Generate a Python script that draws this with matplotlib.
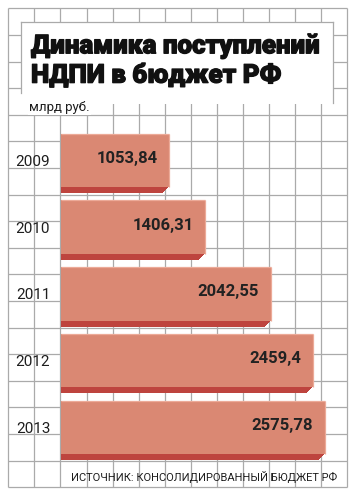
import matplotlib
matplotlib.use("Agg")
import matplotlib.pyplot as plt
from matplotlib import font_manager
from matplotlib import patheffects as pe
from matplotlib.transforms import offset_copy
from matplotlib.patches import Rectangle

# ---- data ----
years = ["2009", "2010", "2011", "2012", "2013"]
values = [1053.84, 1406.31, 2042.55, 2459.4, 2575.78]
value_labels = ["1053,84", "1406,31", "2042,55", "2459,4", "2575,78"]
title_lines = ["Динамика поступлений", "НДПИ в бюджет РФ"]
unit_label = "млрд руб."
source_label = "ИСТОЧНИК: КОНСОЛИДИРОВАННЫЙ БЮДЖЕТ РФ"

# ---- style ----
W, H = 358, 497
face_c = "#DA8873"
dark_c = "#BE443E"
light_c = "#ECAA98"
grid_c = "#AAAAAA"
txt_c = "#1E1E1E"

names = {f.name for f in font_manager.fontManager.ttflist}
narrow = "Liberation Sans Narrow" if "Liberation Sans Narrow" in names else None
main_font = "Roboto"

fig = plt.figure(figsize=(W / 100, H / 100), dpi=100)
fig.patch.set_facecolor("white")

# background axes in pixel coordinates (decorative grid, title)
bg = fig.add_axes([0, 0, 1, 1])
bg.set_xlim(0, W)
bg.set_ylim(H, 0)
bg.axis("off")

x0, x1, y0, y1 = 8.3, 347.3, 8.3, 487.3
ncol, nrow = 13, 18
for k in range(ncol + 1):
    x = x0 + k * (x1 - x0) / ncol
    bg.plot([x, x], [y0, y1], color=grid_c, lw=0.9, zorder=1, solid_capstyle="butt")
for k in range(nrow + 1):
    y = y0 + k * (y1 - y0) / nrow
    bg.plot([x0, x1], [y, y], color=grid_c, lw=0.9, zorder=1, solid_capstyle="butt")

# title box
bx0, by0, bx1, by1 = 20.7, 21.7, 333.3, 104.5
bg.add_patch(Rectangle((bx0, by0), bx1 - bx0, by1 - by0, facecolor="white",
                       edgecolor="none", zorder=2))
bg.plot([bx0, bx1], [by0, by0], color=grid_c, lw=0.9, zorder=3)
bg.plot([bx0, bx0], [by0, 93], color=grid_c, lw=0.9, zorder=3)
bg.plot([bx1, bx1], [by0, 102.7], color=grid_c, lw=0.9, zorder=3)

thick = [pe.withStroke(linewidth=0.9, foreground="#111111")]
bg.text(31, 53.3, title_lines[0], fontsize=18.7, fontweight="heavy",
        family=main_font, color="#111111", va="baseline", ha="left", zorder=4,
        path_effects=thick)
bg.text(31, 82.7, title_lines[1], fontsize=18.7, fontweight="heavy",
        family=main_font, color="#111111", va="baseline", ha="left", zorder=4,
        path_effects=thick)
bg.text(29, 110.5, unit_label, fontsize=9.5, family=main_font, color=txt_c,
        va="baseline", ha="left", zorder=4,
        bbox=dict(facecolor="white", edgecolor="none", pad=1.0))
if narrow:
    bg.text(337, 481, source_label, fontsize=9.2, family=narrow, color=txt_c,
            va="baseline", ha="right", zorder=4)
else:
    bg.text(337, 481, source_label, fontsize=8.0, family=main_font, color=txt_c,
            va="baseline", ha="right", zorder=4)

# data axes
px_per_unit = 0.1025
axL, axR = 61.3, 347.3
axT, axB = 127.0, 460.7
ax = fig.add_axes([axL / W, 1 - axB / H, (axR - axL) / W, (axB - axT) / H])
ax.set_xlim(0, (axR - axL) / px_per_unit)
ax.set_ylim(len(years) - 0.5, -0.5)
ax.patch.set_visible(False)
for s in ax.spines.values():
    s.set_visible(False)
ax.set_xticks([])
ax.set_yticks(range(len(years)), years)
ax.tick_params(axis="y", length=0, pad=8)
for t in ax.get_yticklabels():
    t.set_fontsize(11)
    t.set_family(main_font)
    t.set_color(txt_c)

pos = list(range(len(years)))
bh = 0.8
depth = 6
for k in range(1, depth + 1):
    tr = offset_copy(ax.transData, fig=fig, x=-k, y=-k, units="dots")
    ax.barh(pos, values, height=bh, color=dark_c, transform=tr, zorder=2)
ax.barh(pos, values, height=bh, color=face_c, zorder=3)
for i, v in enumerate(values):
    ax.plot([0, v], [i - bh / 2, i - bh / 2], color=light_c, lw=0.9, zorder=4,
            solid_capstyle="butt")
    ax.plot([v, v], [i - bh / 2, i + bh / 2], color=light_c, lw=0.9, zorder=4,
            solid_capstyle="butt")
    ax.annotate(value_labels[i], xy=(v, i), xytext=(-12, 2), textcoords="offset pixels",
                ha="right", va="center", fontsize=12, fontweight="bold",
                family=main_font, color="#222222", zorder=5)

fig.savefig("out.png", dpi=100, facecolor="white")
